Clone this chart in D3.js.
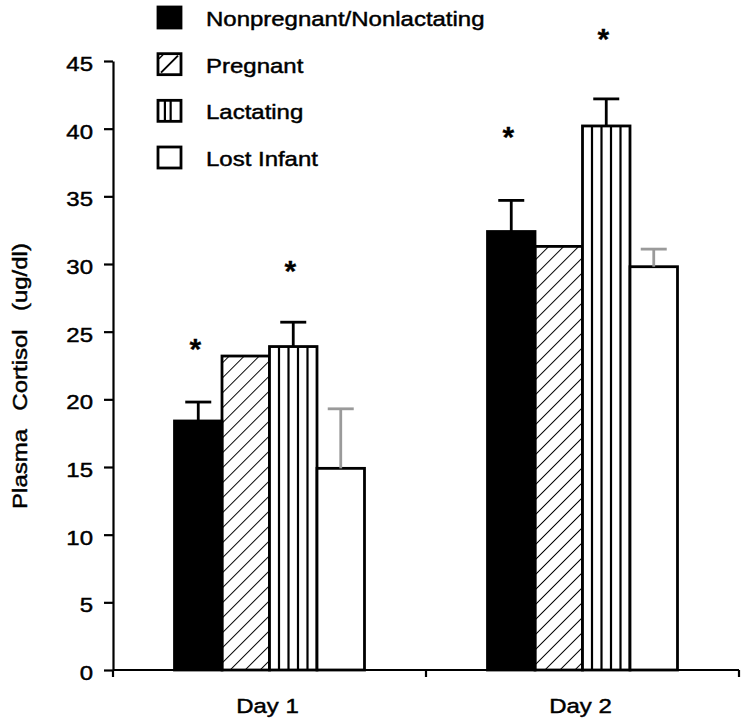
<!DOCTYPE html>
<html>
<head>
<meta charset="utf-8">
<script src="https://cdn.jsdelivr.net/npm/d3@7"></script>
<style>
  body { margin: 0; background: #fff; }
  text { font-family: "Liberation Sans", Arial, sans-serif; fill: #000; stroke: #000; stroke-width: 0.45px; }
</style>
</head>
<body>
<svg id="chart" width="750" height="725"></svg>
<script>
// data
const days = ["Day 1", "Day 2"];
const groups = ["Nonpregnant/Nonlactating", "Pregnant", "Lactating", "Lost Infant"];
const meanDay1 = [18.4, 23.2, 23.9, 14.9];
const meanDay2 = [32.4, 31.3, 40.2, 29.8];
const errDay1 = [1.4, 0, 1.8, 4.4];
const errDay2 = [2.3, 0, 2.0, 1.3];
const starDay1 = [24.3, null, 30.1, null];
const starDay2 = [40.0, null, 47.2, null];
const yTicks = [0, 5, 10, 15, 20, 25, 30, 35, 40, 45];

const STRETCH = 1.17;      // scanned type is wide
const FONT = 20.5;

const svg = d3.select("#chart");
const g = svg.append("g");

const y = d3.scaleLinear().domain([0, 45]).range([670, 61]);
const x = d3.scaleBand().domain(days).range([113, 739]);
const xi = d3.scaleBand().domain(groups).range([0, x.bandwidth()]).paddingOuter(1.295);

const rows = [];
days.forEach((d, di) => {
    const mean = di === 0 ? meanDay1 : meanDay2;
    const err = di === 0 ? errDay1 : errDay2;
    const star = di === 0 ? starDay1 : starDay2;
    groups.forEach((s, si) => {
        rows.push({ day: d, group: s, idx: si, mean: mean[si], err: err[si], star: star[si] });
    });
});

// hatch pattern for Pregnant
const defs = svg.append("defs");
defs.append("pattern")
    .attr("id", "hatch")
    .attr("patternUnits", "userSpaceOnUse")
    .attr("width", 10.6)
    .attr("height", 10)
    .attr("patternTransform", "rotate(45)")
    .append("line")
    .attr("x1", 0).attr("y1", -1).attr("x2", 0).attr("y2", 11)
    .attr("stroke", "#000")
    .attr("stroke-width", 1.9);

function fill_of(idx) {
    if (idx === 0) return "#000";
    if (idx === 1) return "url(#hatch)";
    return "#fff";
}

function stext(parent, str, tx, ty, anchor, size, rot) {
    let t = parent.append("text")
        .text(str)
        .attr("text-anchor", anchor)
        .attr("font-size", size)
        .attr("transform", `translate(${tx},${ty})` + (rot ? ` rotate(${rot})` : "") + ` scale(${STRETCH},1)`);
    return t;
}

// bars
const bw = xi.bandwidth();
rows.forEach(r => {
    let bx = x(r.day) + xi(r.group);
    let by = y(r.mean);
    let bh = y(0) - by;
    if (r.idx === 2) {
        g.append("rect").attr("x", bx).attr("y", by).attr("width", bw).attr("height", bh).attr("fill", "#fff");
        for (let k = 1; k < 5; k++) {
            g.append("line")
                .attr("x1", bx + k * bw / 5).attr("x2", bx + k * bw / 5)
                .attr("y1", by).attr("y2", y(0))
                .attr("stroke", "#000").attr("stroke-width", 2.2);
        }
    }
    g.append("rect")
        .attr("x", bx)
        .attr("y", by)
        .attr("width", bw)
        .attr("height", bh)
        .attr("fill", r.idx === 2 ? "none" : fill_of(r.idx))
        .attr("stroke", "#000")
        .attr("stroke-width", 2.8);
});

// error bars
rows.filter(r => r.err > 0).forEach(r => {
    let cx = x(r.day) + xi(r.group) + bw / 2;
    let col = r.idx === 3 ? "#9a9a9a" : "#000";
    g.append("line")
        .attr("x1", cx).attr("x2", cx)
        .attr("y1", y(r.mean)).attr("y2", y(r.mean + r.err))
        .attr("stroke", col).attr("stroke-width", 2.8);
    g.append("line")
        .attr("x1", cx - 13).attr("x2", cx + 13)
        .attr("y1", y(r.mean + r.err)).attr("y2", y(r.mean + r.err))
        .attr("stroke", col).attr("stroke-width", 2.8);
});

// asterisks
rows.filter(r => r.star !== null).forEach(r => {
    let cx = x(r.day) + xi(r.group) + bw / 2 - 3;
    g.append("text")
        .text("*")
        .attr("x", cx)
        .attr("y", y(r.star) + 18)
        .attr("text-anchor", "middle")
        .attr("font-size", 30)
        .attr("font-weight", "bold")
        .style("stroke-width", "0.3px");
});

// y axis
const yAxis = g.append("g")
    .attr("transform", `translate(${x.range()[0]},0)`)
    .call(d3.axisLeft(y).tickValues(yTicks).tickSize(9).tickSizeOuter(0).tickFormat(d3.format("d")));
yAxis.select(".domain").attr("stroke", "#000").attr("stroke-width", 2.2);
yAxis.selectAll(".tick line").attr("stroke", "#000").attr("stroke-width", 2.2);
yAxis.selectAll(".tick text").remove();
yTicks.forEach(t => {
    stext(g, t, 93, y(t) + 10, "end", FONT);
});

// x axis
const [x0, x1] = x.range();
g.append("line")
    .attr("x1", x0).attr("x2", x1)
    .attr("y1", y(0)).attr("y2", y(0))
    .attr("stroke", "#000").attr("stroke-width", 2.2);
[x0].concat(days.map(d => x(d) + x.bandwidth())).forEach(tx => {
    g.append("line")
        .attr("x1", tx).attr("x2", tx)
        .attr("y1", y(0)).attr("y2", y(0) + 7)
        .attr("stroke", "#000").attr("stroke-width", 2.2);
});
days.forEach(d => {
    stext(g, d, x(d) + x.bandwidth() / 2 - 2, 713, "middle", FONT);
});

// y label
stext(g, "Plasma Cortisol (ug/dl)", 27, 376, "middle", FONT, -90)
    .attr("word-spacing", 10);

// legend
const ly = d3.scalePoint().domain(groups).range([18, 158]);
const BOX = 23;
groups.forEach((s, i) => {
    let cy = ly(s);
    let bx = 158, by = cy - 11;
    let lg = g.append("g");
    lg.append("rect")
        .attr("x", bx).attr("y", by)
        .attr("width", BOX).attr("height", 21)
        .attr("fill", i === 0 ? "#000" : "#fff")
        .attr("stroke", "#000").attr("stroke-width", 2.8);
    if (i === 1) {
        lg.append("line")
            .attr("x1", bx + 3).attr("y1", by + 19)
            .attr("x2", bx + BOX - 3).attr("y2", by + 2)
            .attr("stroke", "#000").attr("stroke-width", 2);
        lg.append("line")
            .attr("x1", bx + 1).attr("y1", by + 5)
            .attr("x2", bx + 5).attr("y2", by + 1)
            .attr("stroke", "#000").attr("stroke-width", 1.5);
    }
    if (i === 2) {
        [0.3, 0.55].forEach(f => {
            lg.append("line")
                .attr("x1", bx + f * BOX).attr("x2", bx + f * BOX)
                .attr("y1", by).attr("y2", by + 21)
                .attr("stroke", "#000").attr("stroke-width", 2.2);
        });
    }
    stext(lg, s, 206, cy + 8, "start", FONT);
});
</script>
</body>
</html>
